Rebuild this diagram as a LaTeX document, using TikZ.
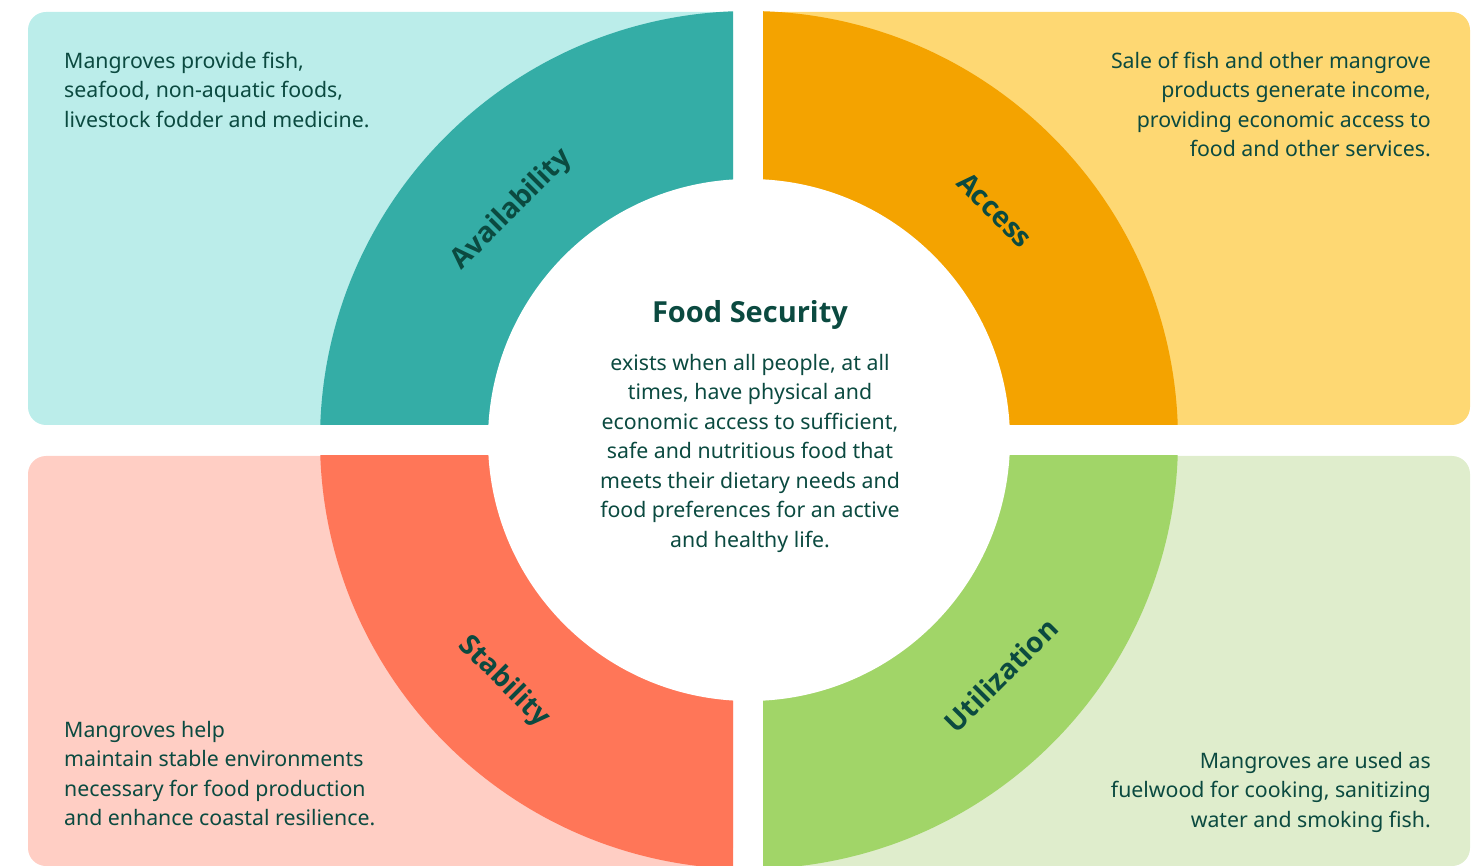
\documentclass[tikz,border=0pt]{standalone}
\usepackage{fontspec}
\setmainfont{Noto Sans}
\newfontfamily\headfont{Open Sans}
\usetikzlibrary{calc}

\definecolor{inktext}{HTML}{0B4A40}
\definecolor{availbg}{HTML}{BBEDEA}
\definecolor{availring}{HTML}{34ADA6}
\definecolor{accessbg}{HTML}{FED873}
\definecolor{accessring}{HTML}{F4A300}
\definecolor{stabbg}{HTML}{FFCEC4}
\definecolor{stabring}{HTML}{FF7658}
\definecolor{utilbg}{HTML}{DFEDCC}
\definecolor{utilring}{HTML}{A1D568}

\begin{document}
\begin{tikzpicture}[x=1pt,y=-1pt]
	\tikzstyle{bodytext} = [text=inktext, inner sep=0pt, font=\fontsize{21.3}{29.5}\selectfont]
	\tikzstyle{ringlabel} = [text=inktext, inner sep=0pt, font=\headfont\bfseries\fontsize{28}{30}\selectfont]
	\tikzstyle{titletext} = [text=inktext, inner sep=0pt, font=\headfont\bfseries\fontsize{29}{32}\selectfont]
	\useasboundingbox (0,0) rectangle (1484,866);
	\coordinate (C) at (749,440);
	% quadrant backgrounds
	\fill[availbg, rounded corners=18] (28,12) rectangle (733,425);
	\fill[availbg] (380,12) rectangle (733,425);
	\fill[accessbg, rounded corners=18] (763,12) rectangle (1470,425);
	\fill[accessbg] (763,12) rectangle (1100,425);
	\fill[stabbg, rounded corners=18] (28,456) rectangle (733,866);
	\fill[stabbg] (380,456) rectangle (733,866);
	\fill[utilbg, rounded corners=18] (763,456) rectangle (1470,866);
	\fill[utilbg] (763,456) rectangle (1100,866);
	% ring pieces
	\begin{scope}
		\clip (28,12) rectangle (733,425);
		\fill[availring] (C) circle[radius=429];
	\end{scope}
	\begin{scope}
		\clip (763,12) rectangle (1470,425);
		\fill[accessring] (C) circle[radius=429];
	\end{scope}
	\begin{scope}
		\clip (28,456) rectangle (733,866);
		\fill[stabring] (C) circle[radius=429];
	\end{scope}
	\begin{scope}
		\clip (763,456) rectangle (1470,866);
		\fill[utilring] (C) circle[radius=429];
	\end{scope}
	\fill[white] (C) circle[radius=261];
	% ring labels
	\node[ringlabel, rotate=45] (avail) at (512,210) {Availability};
	\node[ringlabel, rotate=-45] (access) at (995,210) {Access};
	\node[ringlabel, rotate=-45] (stab) at (504,682) {Stability};
	\node[ringlabel, rotate=45] (util) at (1001,675) {Utilization};
	% centre
	\node[titletext, anchor=base] (title) at (750,323) {Food Security};
	\node[bodytext, anchor=north, align=center] (definition) at (750,354)
		{exists when all people, at all\\ times, have physical and\\ economic access to sufficient,\\ safe and nutritious food that\\ meets their dietary needs and\\ food preferences for an active\\ and healthy life.};
	% quadrant texts
	\node[bodytext, anchor=north west, align=left] (availtext) at (64,52)
		{Mangroves provide fish,\\ seafood, non-aquatic foods,\\ livestock fodder and medicine.};
	\node[bodytext, anchor=north east, align=right] (accesstext) at (1431,52)
		{Sale of fish and other mangrove\\ products generate income,\\ providing economic access to\\ food and other services.};
	\node[bodytext, anchor=north west, align=left] (stabtext) at (64,721)
		{Mangroves help\\ maintain stable environments\\ necessary for food production\\ and enhance coastal resilience.};
	\node[bodytext, anchor=north east, align=right] (utiltext) at (1431,752)
		{Mangroves are used as\\ fuelwood for cooking, sanitizing\\ water and smoking fish.};
\end{tikzpicture}
\end{document}
